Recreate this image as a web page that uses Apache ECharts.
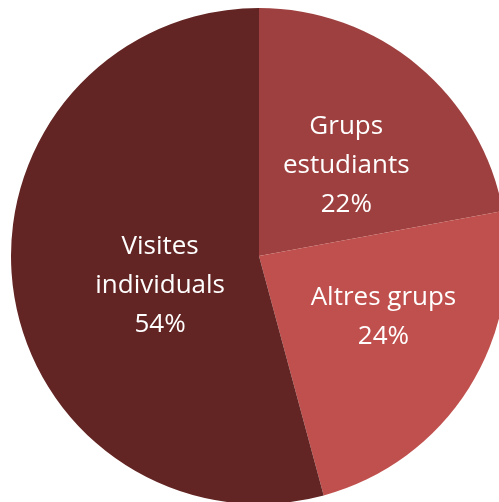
<!DOCTYPE html>
<html><head><meta charset="utf-8">
<script src="https://cdn.jsdelivr.net/npm/echarts@6/dist/echarts.min.js"></script>
<style>html,body{margin:0;padding:0;background:#fff}#c{width:499px;height:502px}</style>
</head><body><div id="c"></div>
<script>
const categories = ["Grups\nestudiants", "Altres grups", "Visites\nindividuals"];
const values = [22.1, 23.7, 54.2];
const colors = ["#9E403F", "#C0504D", "#632523"];
const labelShift = [[6, 7], [17, -7], [27, 13]];

const chart = echarts.init(document.getElementById('c'));
chart.setOption({
  animation: false,
  series: [{
    type: 'pie',
    center: [259, 256],
    radius: [0, 248],
    startAngle: 90,
    clockwise: true,
    data: categories.map((n, i) => ({ name: n, value: values[i], itemStyle: { color: colors[i] } })),
    label: {
      position: 'inside',
      formatter: p => p.name + '\n' + Math.round(p.value) + '%',
      color: '#fff',
      fontSize: 26,
      lineHeight: 39,
      fontFamily: 'Open Sans, Liberation Sans, sans-serif'
    },
    labelLayout: p => ({ dx: labelShift[p.dataIndex][0], dy: labelShift[p.dataIndex][1] }),
    labelLine: { show: false },
    itemStyle: { borderWidth: 0 }
  }]
});
</script></body></html>
